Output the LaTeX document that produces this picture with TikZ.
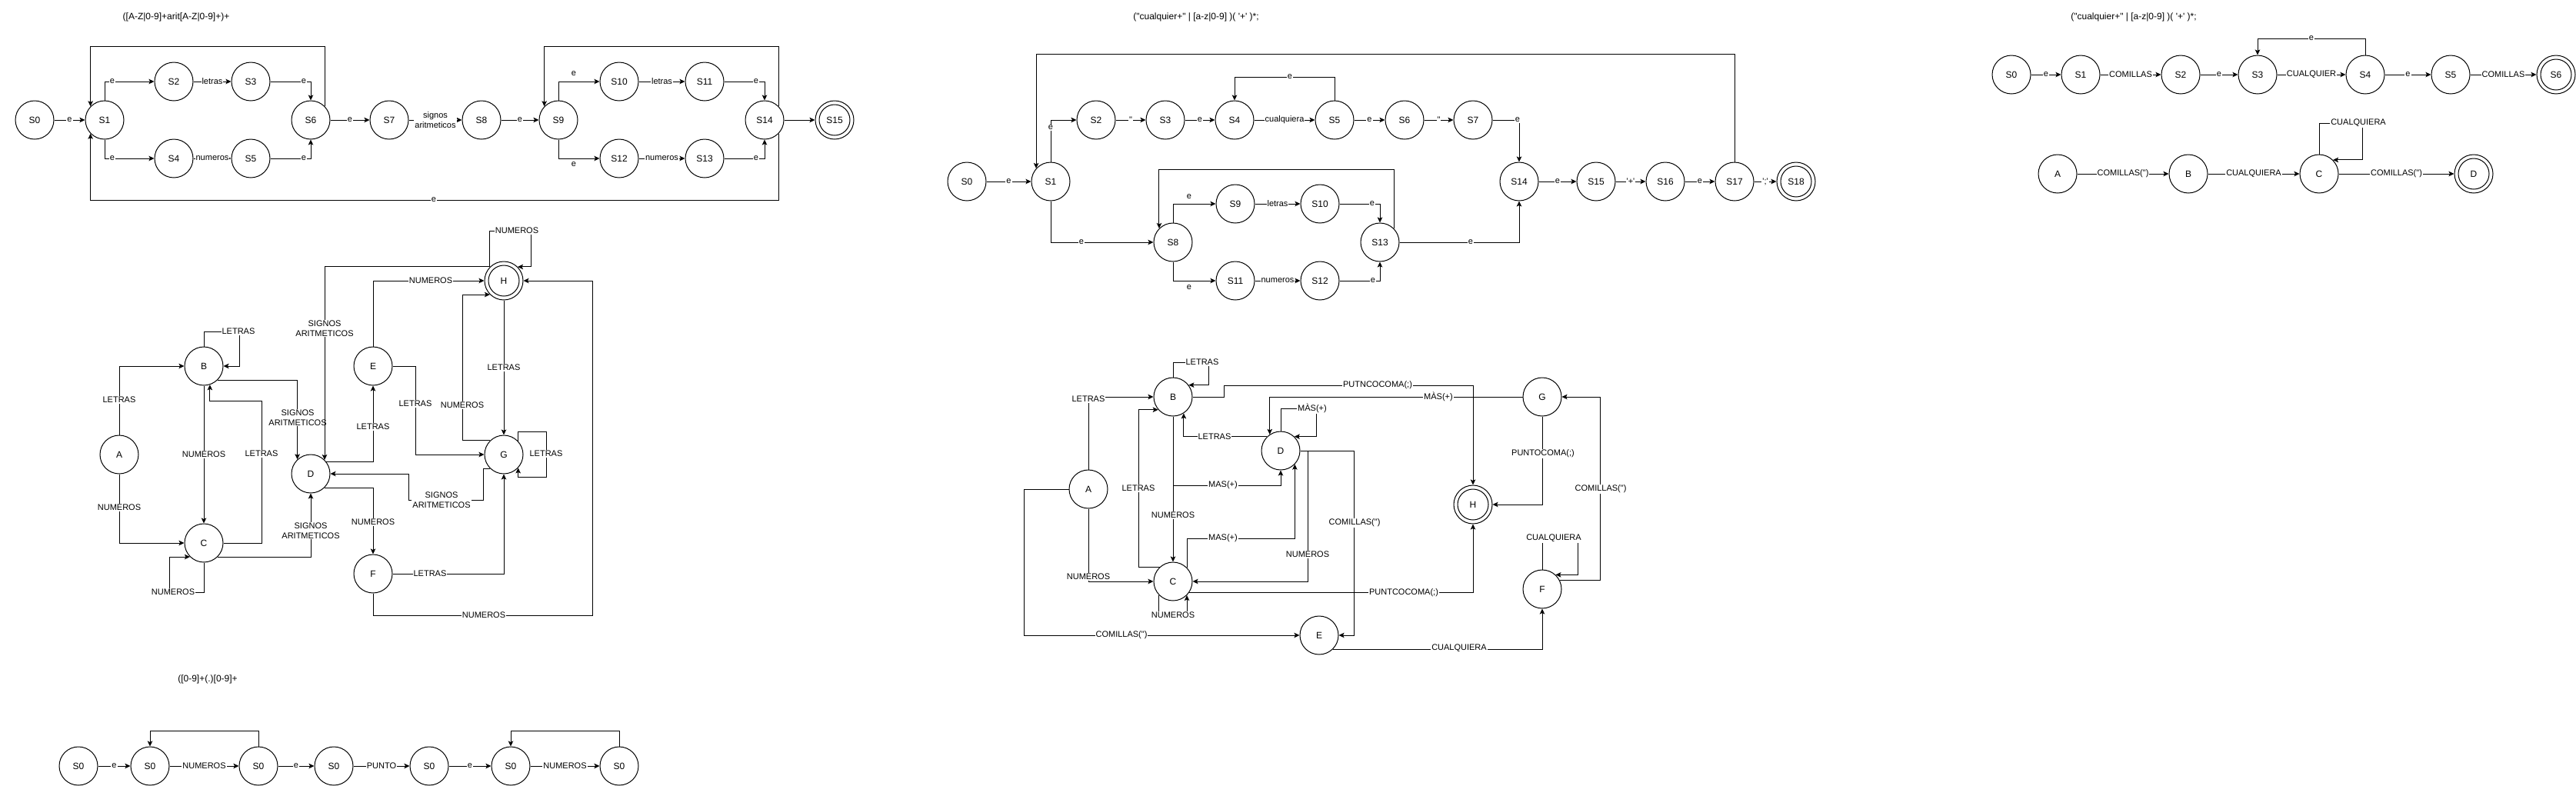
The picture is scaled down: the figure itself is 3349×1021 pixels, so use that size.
\documentclass[tikz,border=0pt]{standalone}
\usepackage{fontspec}
\newfontfamily\lsans{Liberation Sans}
\usetikzlibrary{arrows.meta}
\begin{document}
\begin{tikzpicture}[x=1pt,y=-1pt,
 st/.style={circle, draw, line width=1pt, minimum size=50pt, inner sep=0pt, font=\lsans\fontsize{12}{14}\selectfont},
 acc/.style={st, path picture={\draw[line width=1pt] (path picture bounding box.center) circle[radius=20pt];}},
 arr/.style={draw, line width=1pt, -{Stealth[length=7pt,width=6.5pt,inset=1.5pt]}},
 lbl/.style={fill=white, inner sep=1pt, font=\lsans\fontsize{11}{13}\selectfont, align=center},
 ttl/.style={font=\lsans\fontsize{12}{14}\selectfont}]
\useasboundingbox (0,0) rectangle (3349,1021);

% ---------- Section 1 ----------
\node[ttl] (t1) at (229,22) {([A-Z|0-9]+arit[A-Z|0-9]+)+};
\node[st] (a0) at (45,156) {S0};
\node[st] (a1) at (136,156) {S1};
\node[st] (a2) at (226,106) {S2};
\node[st] (a3) at (326,106) {S3};
\node[st] (a4) at (226,206) {S4};
\node[st] (a5) at (326,206) {S5};
\node[st] (a6) at (404,156) {S6};
\node[st] (a7) at (506,156) {S7};
\node[st] (a8) at (626,156) {S8};
\node[st] (a9) at (726,156) {S9};
\node[st] (a10) at (805,106) {S10};
\node[st] (a11) at (916,106) {S11};
\node[st] (a12) at (805,206) {S12};
\node[st] (a13) at (916,206) {S13};
\node[st] (a14) at (994,156) {S14};
\node[acc] (a15) at (1085,156) {S15};

\draw[arr] (a0) -- node[lbl]{e} (a1);
\draw[arr] (a1.north) |- (a2.west) node[lbl] at (146,106) {e};
\draw[arr] (a2) -- node[lbl]{letras} (a3);
\draw[arr] (a3.east) -| (a6.north) node[lbl] at (395,106) {e};
\draw[arr] (a1.south) |- (a4.west) node[lbl] at (146,206) {e};
\draw[arr] (a4) -- node[lbl]{numeros} (a5);
\draw[arr] (a5.east) -| (a6.south) node[lbl] at (395,206) {e};
\draw[arr] (a6) -- node[lbl]{e} (a7);
\draw[arr] (a7) -- node[lbl]{signos\\aritmeticos} (a8);
\draw[arr] (a8) -- node[lbl]{e} (a9);
\draw[arr] (a9.north) |- (a10.west) node[lbl] at (746,96) {e};
\draw[arr] (a9.south) |- (a12.west) node[lbl] at (746,214) {e};
\draw[arr] (a10) -- node[lbl]{letras} (a11);
\draw[arr] (a11.east) -| (a14.north) node[lbl] at (983,106) {e};
\draw[arr] (a12) -- node[lbl]{numeros} (a13);
\draw[arr] (a13.east) -| (a14.south) node[lbl] at (983,206) {e};
\draw[arr] (a14) -- (a15);
\draw[arr] (a6.44) -- (a6.44 |- 0,60) -- (a1.136 |- 0,60) -- (a1.136);
\draw[arr] (a14.44) -- (a14.44 |- 0,60) -- (a9.136 |- 0,60) -- (a9.136);
\draw[arr] (a14.-44) -- (a14.-44 |- 0,260) -- (a1.-136 |- 0,260) -- (a1.-136) node[lbl] at (564,260) {e};

% ---------- Section 2 ----------
\node[st] (bA) at (155,591) {A};
\node[st] (bB) at (265,476) {B};
\node[st] (bC) at (265,706) {C};
\node[st] (bD) at (404,616) {D};
\node[st] (bE) at (485,476) {E};
\node[st] (bF) at (485,746) {F};
\node[st] (bG) at (655,591) {G};
\node[acc] (bH) at (655,365) {H};

\draw[arr] (bA.north) |- (bB.west) node[lbl] at (155,520) {LETRAS};
\draw[arr] (bA.south) |- (bC.west) node[lbl] at (155,660) {NUMEROS};
\draw[arr] (bB.north) |- (311,431) |- (bB.east) node[lbl] at (310,431) {LETRAS};
\draw[arr] (bB.south) -- node[lbl]{NUMEROS} (bC.north);
\draw[arr] (bC.east) -| (340,521) -| (bB.-72) node[lbl] at (340,590) {LETRAS};
\draw[arr] (bC.south) |- (220,770) |- (bC.225) node[lbl] at (225,770) {NUMEROS};
\draw[arr] (bB.-45) -| (bD.133) node[lbl] at (387,543) {SIGNOS\\ARITMETICOS};
\draw[arr] (bC.-45) -| (bD.south) node[lbl] at (404,690) {SIGNOS\\ARITMETICOS};
\draw[arr] (bH.135) -| (bD.45) node[lbl] at (422,427) {SIGNOS\\ARITMETICOS};
\draw[arr] (bH.135) |- (690,300) |- (bH.45) node[lbl] at (672,300) {NUMEROS};
\draw[arr] (bE.north) |- (bH.west) node[lbl] at (560,365) {NUMEROS};
\draw[arr] (bD.38) -| (bE.south) node[lbl] at (485,555) {LETRAS};
\draw[arr] (bE.east) -- (540,476) |- (bG.west) node[lbl] at (540,525) {LETRAS};
\draw[arr] (bG.135) -| (bH.225 -| 601,0) -- (bH.225) node[lbl] at (601,527) {NUMEROS};
\draw[arr] (bH.south) -- node[lbl]{LETRAS} (bG.north);
\draw[arr] (bG.43) |- (710,561) |- (bG.-43 |- 0,620) -- (bG.-43) node[lbl] at (710,590) {LETRAS};
\draw[arr] (bG.-135) -| (628,650) -| (531,616) -- (bD.east) node[lbl] at (574,650) {SIGNOS\\ARITMETICOS};
\draw[arr] (bD.-45) -| (bF.north) node[lbl] at (485,679) {NUMEROS};
\draw[arr] (bF.east) -| (bG.south) node[lbl] at (559,746) {LETRAS};
\draw[arr] (bF.south) |- (770,800) |- (bH.east) node[lbl] at (629,800) {NUMEROS};

% ---------- Section 3 ----------
\node[ttl] (t3) at (270,883) {([0-9]+(.)[0-9]+};
\node[st] (c1) at (102,996) {S0};
\node[st] (c2) at (195,996) {S0};
\node[st] (c3) at (336,996) {S0};
\node[st] (c4) at (434,996) {S0};
\node[st] (c5) at (558,996) {S0};
\node[st] (c6) at (664,996) {S0};
\node[st] (c7) at (805,996) {S0};
\draw[arr] (c1) -- node[lbl]{e} (c2);
\draw[arr] (c2) -- node[lbl]{NUMEROS} (c3);
\draw[arr] (c3) -- node[lbl]{e} (c4);
\draw[arr] (c4) -- node[lbl]{PUNTO} (c5);
\draw[arr] (c5) -- node[lbl]{e} (c6);
\draw[arr] (c6) -- node[lbl]{NUMEROS} (c7);
\draw[arr] (c3.north) -- (c3.north |- 0,950) -| (c2.north);
\draw[arr] (c7.north) -- (c7.north |- 0,950) -| (c6.north);

% ---------- Section 4 ----------
\node[ttl] (t4) at (1555,22) {("cualquier+" | [a-z|0-9] )( '+' )*;};
\node[st] (d0) at (1257,236) {S0};
\node[st] (d1) at (1366,236) {S1};
\node[st] (d2) at (1425,156) {S2};
\node[st] (d3) at (1515,156) {S3};
\node[st] (d4) at (1605,156) {S4};
\node[st] (d5) at (1735,156) {S5};
\node[st] (d6) at (1826,156) {S6};
\node[st] (d7) at (1915,156) {S7};
\node[st] (d8) at (1525,315) {S8};
\node[st] (d9) at (1606,265) {S9};
\node[st] (d10) at (1716,265) {S10};
\node[st] (d11) at (1606,365) {S11};
\node[st] (d12) at (1716,365) {S12};
\node[st] (d13) at (1794,315) {S13};
\node[st] (d14) at (1975,236) {S14};
\node[st] (d15) at (2075,236) {S15};
\node[st] (d16) at (2165,236) {S16};
\node[st] (d17) at (2255,236) {S17};
\node[acc] (d18) at (2335,236) {S18};

\draw[arr] (d0) -- node[lbl]{e} (d1);
\draw[arr] (d1.north) |- (d2.west) node[lbl] at (1366,166) {e};
\draw[arr] (d2) -- node[lbl]{"} (d3);
\draw[arr] (d3) -- node[lbl]{e} (d4);
\draw[arr] (d4) -- node[lbl]{cualquiera} (d5);
\draw[arr] (d5.north) -- (d5.north |- 0,100) -| (d4.north) node[lbl] at (1677,100) {e};
\draw[arr] (d5) -- node[lbl]{e} (d6);
\draw[arr] (d6) -- node[lbl]{"} (d7);
\draw[arr] (d7.east) -| (d14.north) node[lbl] at (1973,156) {e};
\draw[arr] (d14) -- node[lbl]{e} (d15);
\draw[arr] (d15) -- node[lbl]{'+'} (d16);
\draw[arr] (d16) -- node[lbl]{e} (d17);
\draw[arr] (d17) -- node[lbl]{';'} (d18);
\draw[arr] (d17.north) -- (d17.north |- 0,70) -| (d1.138);
\draw[arr] (d1.south) |- (d8.west) node[lbl] at (1406,315) {e};
\draw[arr] (d8.north) |- (d9.west) node[lbl] at (1546,256) {e};
\draw[arr] (d8.south) |- (d11.west) node[lbl] at (1546,374) {e};
\draw[arr] (d9) -- node[lbl]{letras} (d10);
\draw[arr] (d11) -- node[lbl]{numeros} (d12);
\draw[arr] (d10.east) -| (d13.north) node[lbl] at (1784,265) {e};
\draw[arr] (d12.east) -| (d13.south) node[lbl] at (1785,365) {e};
\draw[arr] (d13.45) -- (d13.45 |- 0,220) -| (d8.135);
\draw[arr] (d13.east) -| (d14.south) node[lbl] at (1912,315) {e};

% ---------- Section 5 ----------
\node[st] (eA) at (1415,636) {A};
\node[st] (eB) at (1525,516) {B};
\node[st] (eC) at (1525,756) {C};
\node[st] (eD) at (1665,586) {D};
\node[st] (eE) at (1715,826) {E};
\node[st] (eF) at (2005,766) {F};
\node[st] (eG) at (2005,516) {G};
\node[acc] (eH) at (1915,656) {H};

\draw[arr] (eA.north) |- (eB.west) node[lbl] at (1415,519) {LETRAS};
\draw[arr] (eA.south) |- (eC.west) node[lbl] at (1415,750) {NUMEROS};
\draw[arr] (eA.west) -- (1331,636) |- (eE.west) node[lbl] at (1458,826) {COMILLAS(")};
\draw[arr] (eB.north) |- (1571,471) |- (eB.37) node[lbl] at (1563,471) {LETRAS};
\draw[arr] (eB.east) -| (1591,501) -| (eH.north) node[lbl] at (1791,501) {PUTNCOCOMA(;)};
\draw[arr] (eG.west) -| (eD.124) node[lbl] at (1870,516) {MÀS(+)};
\draw[arr] (eD.north) |- (1711,531) |- (eD.46) node[lbl] at (1706,531) {MÀS(+)};
\draw[arr] (eD.134) -| (eB.-57) node[lbl] at (1579,568) {LETRAS};
\draw[arr] (eB.south) -- (eC.north) node[lbl] at (1525,670) {NUMEROS};
\draw[arr] (eB.south) |- (1665,631) -- (eD.south) node[lbl] at (1590,631) {MAS(+)};
\draw[arr] (eC.132) -| (eB.-139 -| 1480,0) -- (eB.-139) node[lbl] at (1480,635) {LETRAS};
\draw[arr] (eC.45) |- (eD.-44 |- 0,700) -- (eD.-44) node[lbl] at (1590,700) {MAS(+)};
\draw[arr] (eD.east) -- (1700,586) |- (eC.east) node[lbl] at (1700,721) {NUMEROS};
\draw[arr] (eD.east) -- (1760,586) |- (eE.east) node[lbl] at (1761,680) {COMILLAS(")};
\draw[arr] (eC.-135) -- (eC.-135 |- 0,800) -| (eC.-45) node[lbl] at (1525,800) {NUMEROS};
\draw[arr] (eC.-35) -| (eH.south) node[lbl] at (1825,771) {PUNTCOCOMA(;)};
\draw[arr] (eG.south) |- (eH.east) node[lbl] at (2006,590) {PUNTOCOMA(;)};
\draw[arr] (eE.-45) -| (eF.south) node[lbl] at (1897,843) {CUALQUIERA};
\draw[arr] (eF.north) |- (2051,700) |- (eF.47) node[lbl] at (2020,700) {CUALQUIERA};
\draw[arr] (eF.26) -| (eG.east -| 2080,0) -- (eG.east) node[lbl] at (2081,636) {COMILLAS(")};

% ---------- Section 6 ----------
\node[ttl] (t6) at (2774,22) {("cualquier+" | [a-z|0-9] )( '+' )*;};
\node[st] (f0) at (2615,97) {S0};
\node[st] (f1) at (2705,97) {S1};
\node[st] (f2) at (2835,97) {S2};
\node[st] (f3) at (2935,97) {S3};
\node[st] (f4) at (3075,97) {S4};
\node[st] (f5) at (3186,97) {S5};
\node[acc] (f6) at (3323,97) {S6};
\draw[arr] (f0) -- node[lbl]{e} (f1);
\draw[arr] (f1) -- node[lbl]{COMILLAS} (f2);
\draw[arr] (f2) -- node[lbl]{e} (f3);
\draw[arr] (f3) -- node[lbl]{CUALQUIER} (f4);
\draw[arr] (f4) -- node[lbl]{e} (f5);
\draw[arr] (f5) -- node[lbl]{COMILLAS} (f6);
\draw[arr] (f4.north) -- (f4.north |- 0,50) -| (f3.north) node[lbl] at (3005,50) {e};

\node[st] (gA) at (2675,226) {A};
\node[st] (gB) at (2845,226) {B};
\node[st] (gC) at (3015,226) {C};
\node[acc] (gD) at (3216,226) {D};
\draw[arr] (gA) -- node[lbl]{COMILLAS(")} (gB);
\draw[arr] (gB) -- node[lbl]{CUALQUIERA} (gC);
\draw[arr] (gC) -- node[lbl]{COMILLAS(")} (gD);
\draw[arr] (gC.north) |- (3071,160) |- (gC.45) node[lbl] at (3066,160) {CUALQUIERA};
\end{tikzpicture}
\end{document}
